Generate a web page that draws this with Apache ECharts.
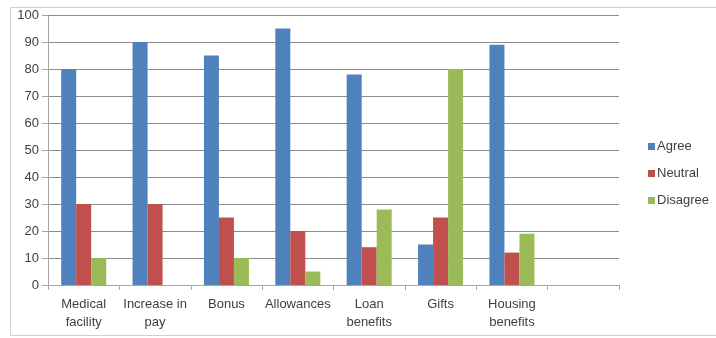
<!DOCTYPE html>
<html>
<head>
<meta charset="utf-8">
<script src="https://cdn.jsdelivr.net/npm/echarts@6/dist/echarts.min.js"></script>
<style>
  html, body { margin: 0; padding: 0; background: #fff; }
  #chart { width: 716px; height: 338px; }
</style>
</head>
<body>
<div id="chart"></div>
<script>
  // categories (the last slot is empty in the original)
  const categories = ["Medical\nfacility", "Increase in\npay", "Bonus", "Allowances", "Loan\nbenefits", "Gifts", "Housing\nbenefits", ""];
  const agree = [80, 90, 85, 95, 78, 15, 89, null];
  const neutral = [30, 30, 25, 20, 14, 25, 12, null];
  const disagree = [10, 0, 10, 5, 28, 80, 19, null];
  const yTicks = [0, 10, 20, 30, 40, 50, 60, 70, 80, 90, 100];

  const chart = echarts.init(document.getElementById("chart"));
  const textColor = "#404040";
  const font = "Liberation Sans";

  const mkSeries = (name, data, color) => ({
    name: name,
    type: "bar",
    data: data,
    barWidth: 15,
    barGap: "0%",
    itemStyle: { color: color },
    animation: false
  });

  chart.setOption({
    animation: false,
    graphic: [
      {
        type: "rect",
        shape: { x: 10.5, y: 7.5, width: 720, height: 328 },
        style: { fill: "none", stroke: "#d0d0d0", lineWidth: 1 },
        silent: true
      }
    ],
    grid: { left: 48, right: 97, top: 15, bottom: 53 },
    legend: {
      orient: "vertical",
      left: 643,
      top: 135,
      itemWidth: 7,
      itemHeight: 7,
      itemGap: 14,
      icon: "rect",
      textStyle: { color: textColor, fontFamily: font, fontSize: 13, padding: [0, 0, 0, -3] },
      data: ["Agree", "Neutral", "Disagree"]
    },
    xAxis: {
      type: "category",
      data: categories,
      axisLine: { lineStyle: { color: "#a6a6a6" } },
      axisTick: { show: true, length: 5, lineStyle: { color: "#a6a6a6" } },
      axisLabel: {
        interval: 0,
        color: textColor,
        fontFamily: font,
        fontSize: 13,
        lineHeight: 18,
        margin: 10
      }
    },
    yAxis: {
      type: "value",
      min: yTicks[0],
      max: yTicks[yTicks.length - 1],
      interval: 10,
      axisLine: { show: true, lineStyle: { color: "#a6a6a6" } },
      axisTick: { show: true, length: 6, lineStyle: { color: "#a6a6a6" } },
      splitLine: { lineStyle: { color: "#8c8c8c" } },
      axisLabel: { color: textColor, fontFamily: font, fontSize: 13, margin: 9 }
    },
    series: [
      mkSeries("Agree", agree, "#4f81bd"),
      mkSeries("Neutral", neutral, "#c0504d"),
      mkSeries("Disagree", disagree, "#9bbb59")
    ]
  });
</script>
</body>
</html>
